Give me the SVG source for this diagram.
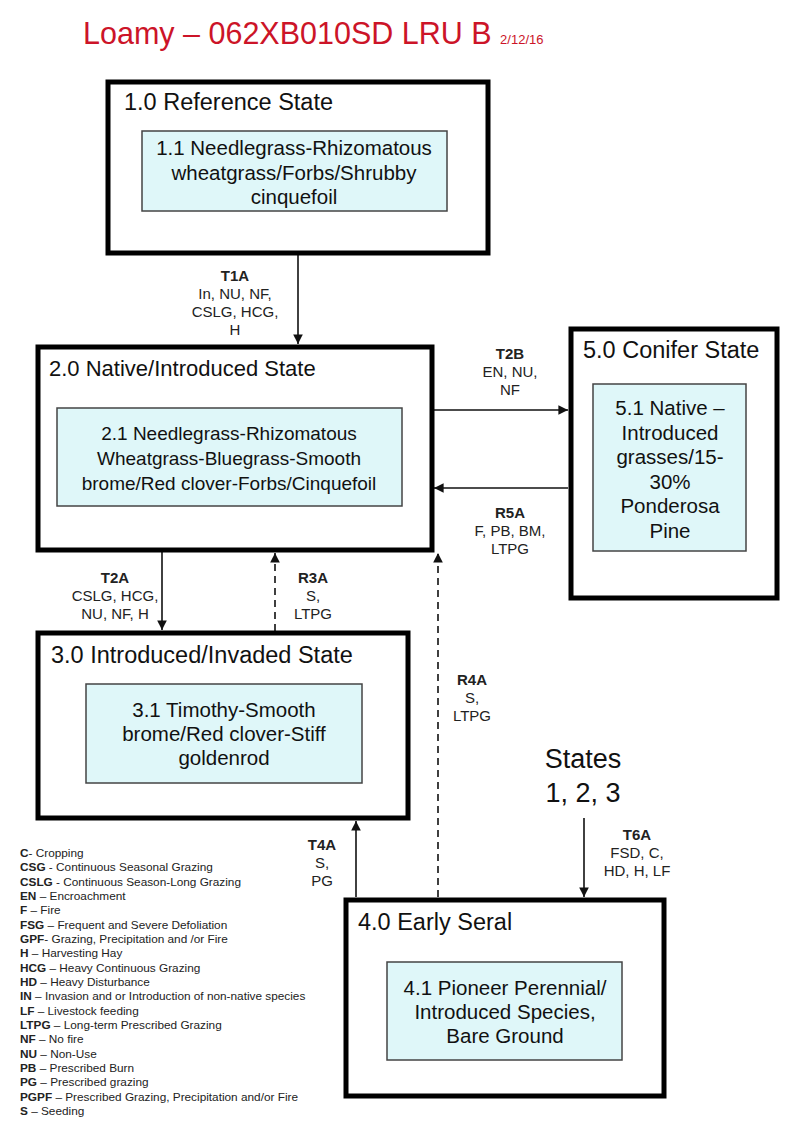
<svg xmlns="http://www.w3.org/2000/svg" width="800" height="1133" viewBox="0 0 800 1133">
<style>
.state{fill:#fff;stroke:#000;stroke-width:5}
.comm{fill:#dff7f9;stroke:#444;stroke-width:1.5}
.st{font-family:"Liberation Sans",Arial,sans-serif;font-size:23.5px;fill:#111}
.ct{font-family:"Liberation Sans",Arial,sans-serif;font-size:20.5px;fill:#111;text-anchor:middle}
.lb{font-family:"Liberation Sans",Arial,sans-serif;font-size:15px;fill:#222;text-anchor:middle}
.lb .b{font-weight:bold}
.lg{font-family:"Liberation Sans",Arial,sans-serif;font-size:11.8px;fill:#222}
.lg tspan.b{font-weight:bold}
.cn{stroke:#111;stroke-width:1.6;fill:none}
.dash{stroke-dasharray:7,5}
</style>
<defs>
<marker id="ah" viewBox="0 0 10 10" refX="10" refY="5" markerWidth="6" markerHeight="6" markerUnits="strokeWidth" orient="auto">
<path d="M0,0 L10,5 L0,10 z" fill="#111"/>
</marker>
</defs>
<rect width="800" height="1133" fill="#fff"/>
<text x="83" y="44" font-family="Liberation Sans,Arial,sans-serif" font-size="30.5" fill="#cc1428">Loamy – 062XB010SD LRU B <tspan font-size="13">2/12/16</tspan></text>

<g id="connectors">
<line class="cn" x1="298" y1="255" x2="298" y2="344" marker-end="url(#ah)"/>
<line class="cn" x1="434" y1="410" x2="568" y2="410" marker-end="url(#ah)"/>
<line class="cn" x1="568" y1="488" x2="434" y2="488" marker-end="url(#ah)"/>
<line class="cn" x1="162" y1="552" x2="162" y2="630" marker-end="url(#ah)"/>
<line class="cn dash" x1="275" y1="631" x2="275" y2="553" marker-end="url(#ah)"/>
<line class="cn dash" x1="438" y1="897" x2="438" y2="553" marker-end="url(#ah)"/>
<line class="cn" x1="356" y1="897" x2="356" y2="821" marker-end="url(#ah)"/>
<line class="cn" x1="584" y1="818" x2="584" y2="897" marker-end="url(#ah)"/>
<text class="lb" x="235" y="281"><tspan class="b">T1A</tspan><tspan x="235" dy="18">In, NU, NF,</tspan><tspan x="235" dy="18">CSLG, HCG,</tspan><tspan x="235" dy="18">H</tspan></text>
<text class="lb" x="510" y="359"><tspan class="b">T2B</tspan><tspan x="510" dy="18">EN, NU,</tspan><tspan x="510" dy="18">NF</tspan></text>
<text class="lb" x="510" y="518"><tspan class="b">R5A</tspan><tspan x="510" dy="18">F, PB, BM,</tspan><tspan x="510" dy="18">LTPG</tspan></text>
<text class="lb" x="115" y="583"><tspan class="b">T2A</tspan><tspan x="115" dy="18">CSLG, HCG,</tspan><tspan x="115" dy="18">NU, NF, H</tspan></text>
<text class="lb" x="313" y="583"><tspan class="b">R3A</tspan><tspan x="313" dy="18">S,</tspan><tspan x="313" dy="18">LTPG</tspan></text>
<text class="lb" x="472" y="685"><tspan class="b">R4A</tspan><tspan x="472" dy="18">S,</tspan><tspan x="472" dy="18">LTPG</tspan></text>
<text class="lb" x="322" y="850"><tspan class="b">T4A</tspan><tspan x="322" dy="18">S,</tspan><tspan x="322" dy="18">PG</tspan></text>
<text class="lb" x="637" y="840"><tspan class="b">T6A</tspan><tspan x="637" dy="18">FSD, C,</tspan><tspan x="637" dy="18">HD, H, LF</tspan></text>
</g>

<g id="state1">
<rect class="state" x="108" y="82" width="380" height="171"/>
<text class="st" x="124" y="110">1.0 Reference State</text>
<rect class="comm" x="142" y="131" width="305" height="80"/>
<text class="ct" x="294" y="155">1.1 Needlegrass-Rhizomatous<tspan x="294" dy="24.5">wheatgrass/Forbs/Shrubby</tspan><tspan x="294" dy="24.5">cinquefoil</tspan></text>
</g>

<g id="state2">
<rect class="state" x="38" y="347" width="394" height="203"/>
<text class="st" x="49" y="376" style="font-size:22px">2.0 Native/Introduced State</text>
<rect class="comm" x="57" y="408" width="345" height="98"/>
<text class="ct" x="229" y="440" style="font-size:19px">2.1 Needlegrass-Rhizomatous<tspan x="229" dy="25">Wheatgrass-Bluegrass-Smooth</tspan><tspan x="229" dy="25">brome/Red clover-Forbs/Cinquefoil</tspan></text>
</g>

<g id="state5">
<rect class="state" x="571" y="329" width="206" height="269"/>
<text class="st" x="583" y="358">5.0 Conifer State</text>
<rect class="comm" x="593" y="384" width="153" height="167"/>
<text class="ct" x="670" y="415">5.1 Native –<tspan x="670" dy="24.5">Introduced</tspan><tspan x="670" dy="24.5">grasses/15-</tspan><tspan x="670" dy="24.5">30%</tspan><tspan x="670" dy="24.5">Ponderosa</tspan><tspan x="670" dy="24.5">Pine</tspan></text>
</g>

<g id="state3">
<rect class="state" x="38" y="633" width="370" height="185"/>
<text class="st" x="51" y="663">3.0 Introduced/Invaded State</text>
<rect class="comm" x="86" y="684" width="276" height="99"/>
<text class="ct" x="224" y="717">3.1 Timothy-Smooth<tspan x="224" dy="24">brome/Red clover-Stiff</tspan><tspan x="224" dy="24">goldenrod</tspan></text>
</g>

<g id="states123">
<text x="583" y="768" font-family="Liberation Sans,Arial,sans-serif" font-size="27" fill="#111" text-anchor="middle">States<tspan x="583" dy="34">1, 2, 3</tspan></text>
</g>

<g id="state4">
<rect class="state" x="346" y="900" width="318" height="196"/>
<text class="st" x="358" y="930">4.0 Early Seral</text>
<rect class="comm" x="387" y="962" width="235" height="98"/>
<text class="ct" x="505" y="995">4.1 Pioneer Perennial/<tspan x="505" dy="24">Introduced Species,</tspan><tspan x="505" dy="24">Bare Ground</tspan></text>
</g>

<g id="legend">
<text class="lg" x="20" y="857"><tspan class="b">C</tspan>- Cropping</text>
<text class="lg" x="20" y="871.3"><tspan class="b">CSG</tspan> - Continuous Seasonal Grazing</text>
<text class="lg" x="20" y="885.7"><tspan class="b">CSLG</tspan> - Continuous Season-Long Grazing</text>
<text class="lg" x="20" y="900"><tspan class="b">EN</tspan> – Encroachment</text>
<text class="lg" x="20" y="914.3"><tspan class="b">F</tspan> – Fire</text>
<text class="lg" x="20" y="928.7"><tspan class="b">FSG</tspan> – Frequent and Severe Defoliation</text>
<text class="lg" x="20" y="943"><tspan class="b">GPF</tspan>- Grazing, Precipitation and /or Fire</text>
<text class="lg" x="20" y="957.3"><tspan class="b">H</tspan> – Harvesting Hay</text>
<text class="lg" x="20" y="971.7"><tspan class="b">HCG</tspan> – Heavy Continuous Grazing</text>
<text class="lg" x="20" y="986"><tspan class="b">HD</tspan> – Heavy Disturbance</text>
<text class="lg" x="20" y="1000.3"><tspan class="b">IN</tspan> – Invasion and or Introduction of non-native species</text>
<text class="lg" x="20" y="1014.7"><tspan class="b">LF</tspan> – Livestock feeding</text>
<text class="lg" x="20" y="1029"><tspan class="b">LTPG</tspan> – Long-term Prescribed Grazing</text>
<text class="lg" x="20" y="1043.3"><tspan class="b">NF</tspan> – No fire</text>
<text class="lg" x="20" y="1057.7"><tspan class="b">NU</tspan> – Non-Use</text>
<text class="lg" x="20" y="1072"><tspan class="b">PB</tspan> – Prescribed Burn</text>
<text class="lg" x="20" y="1086.3"><tspan class="b">PG</tspan> – Prescribed grazing</text>
<text class="lg" x="20" y="1100.7"><tspan class="b">PGPF</tspan> – Prescribed Grazing, Precipitation and/or Fire</text>
<text class="lg" x="20" y="1115"><tspan class="b">S</tspan> – Seeding</text>
</g>
</svg>
